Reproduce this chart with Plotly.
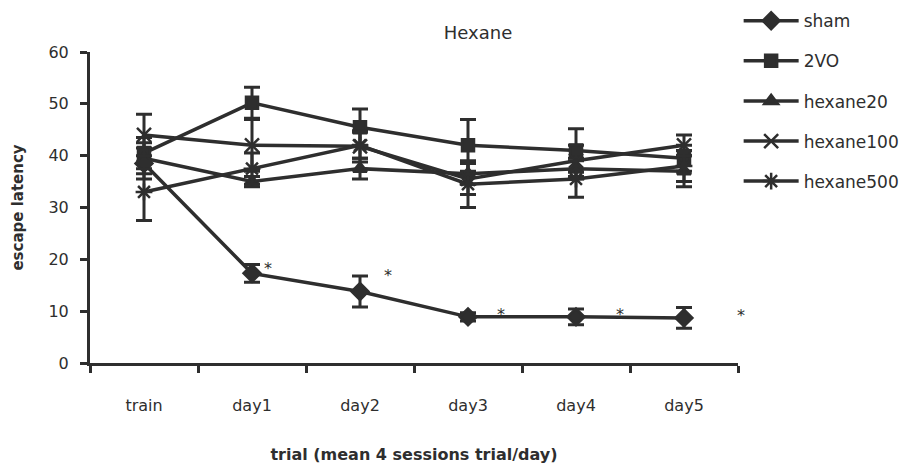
import plotly.graph_objects as go

categories = ["train", "day1", "day2", "day3", "day4", "day5"]
series_names = ["sham", "2VO", "hexane20", "hexane100", "hexane500"]
sham = [38.5, 17.3, 13.8, 8.9, 8.9, 8.7]
sham_err = [3.0, 1.7, 3.0, 0.8, 1.5, 2.0]
vo2 = [40.5, 50.2, 45.5, 42.0, 41.0, 39.5]
vo2_err = [3.0, 3.0, 3.5, 5.0, 4.2, 2.5]
hex20 = [39.5, 35.0, 37.5, 36.5, 37.5, 37.0]
hex20_err = [3.0, 1.0, 2.0, 2.0, 2.0, 3.0]
hex100 = [44.0, 42.0, 41.8, 35.5, 39.0, 42.0]
hex100_err = [4.0, 5.0, 3.0, 3.0, 3.0, 2.0]
hex500 = [33.0, 37.5, 42.0, 34.5, 35.5, 38.0]
hex500_err = [5.5, 3.0, 2.5, 4.5, 3.5, 3.0]
star_labels = ["*", "*", "*", "*", "*"]
y_ticks = [0, 10, 20, 30, 40, 50, 60]

x = list(range(len(categories)))
C = "#2e2e2e"
FONT = "DejaVu Sans"

series = [
    ("sham", sham, sham_err, "diamond", 13),
    ("2VO", vo2, vo2_err, "square", 12),
    ("hexane20", hex20, hex20_err, "triangle-up", 12),
    ("hexane100", hex100, hex100_err, "x-thin-open", 14),
    ("hexane500", hex500, hex500_err, "asterisk-open", 14),
]

fig = go.Figure()
for i, (name, vals, err, sym, sz) in enumerate(series):
    fig.add_trace(go.Scatter(
        x=x, y=vals, name=name, mode="lines+markers",
        line=dict(color=C, width=3.5),
        marker=dict(symbol=sym, size=sz, color=C, line=dict(color=C, width=2.5)),
        error_y=dict(type="data", array=err, visible=True, color=C, thickness=3, width=8),
        legendgroup=name,
    ))

star_dx = [0.15, 0.26, 0.31, 0.41, 0.49]
star_xshift = [0, 0, 0, 0, 4]
star_dy = [1.0, 3.0, 0.4, 0.4, 0.4]
for k in range(1, 6):
    fig.add_annotation(x=x[k] + star_dx[k - 1], y=sham[k] + star_dy[k - 1],
                       xshift=star_xshift[k - 1],
                       text=star_labels[k - 1], showarrow=False,
                       font=dict(family=FONT, size=16, color=C))

fig.update_layout(
    width=908, height=464,
    margin=dict(l=90, r=170, t=52, b=101, autoexpand=False),
    paper_bgcolor="white", plot_bgcolor="white",
    font=dict(family=FONT, color=C, size=16),
    title=dict(text="Hexane", x=478 / 908, xanchor="center", y=1 - 33 / 464, yanchor="middle",
               xref="container", yref="container", font=dict(size=18, family=FONT, color=C)),
    showlegend=True,
    legend=dict(x=1.001, y=1.157, xanchor="left", yanchor="top", itemwidth=55,
                font=dict(size=17, family=FONT, color=C), tracegroupgap=15,
                bgcolor="rgba(0,0,0,0)"),
    xaxis=dict(range=[-0.5, 5.5], tickvals=x, ticktext=categories, ticks="",
               showgrid=False, zeroline=False, showline=True, linecolor=C, linewidth=3,
               ticklabelstandoff=26, automargin=False,
               minor=dict(tickvals=[-0.5, 0.5, 1.5, 2.5, 3.5, 4.5, 5.5], ticks="outside",
                          ticklen=7, tickwidth=3, tickcolor=C, showgrid=False),
               title=dict(text="<b>trial (mean 4 sessions trial/day)</b>", standoff=36,
                          font=dict(size=16, family=FONT, color=C))),
    yaxis=dict(range=[0, 60], tickvals=y_ticks, ticks="outside", ticklen=7, tickwidth=3,
               tickcolor=C, showgrid=False, zeroline=False, showline=True, linecolor=C,
               linewidth=3, ticklabelstandoff=8, automargin=False,
               title=dict(text="<b>escape latency</b>", standoff=22,
                          font=dict(size=15, family=FONT, color=C))),
)

fig.write_html("out.html")
